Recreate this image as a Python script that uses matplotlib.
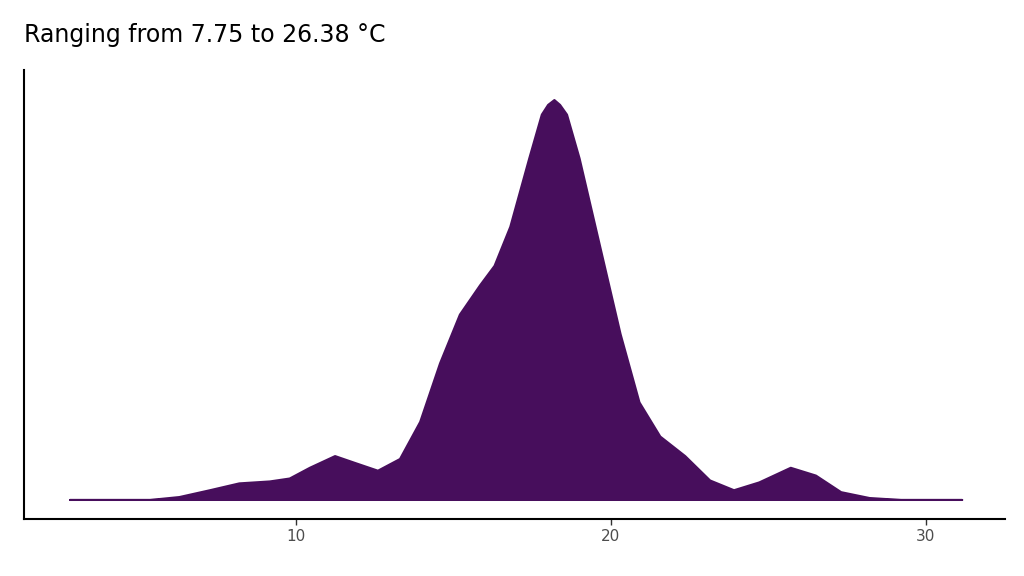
import numpy as np
import matplotlib
matplotlib.use("Agg")
from matplotlib import pyplot as plt

# density profile (temperature, relative height)
temp = [2.83, 5.37, 6.3, 7.27, 8.2, 9.17, 9.8, 10.44, 11.24, 11.87, 12.6, 13.3,
        13.94, 14.57, 15.2, 15.84, 16.3, 16.8, 17.4, 17.8, 18.0, 18.2, 18.38, 18.6,
        19.0, 19.65, 20.3, 20.9, 21.56, 22.35, 23.14, 23.9, 24.7, 25.7, 26.5,
        27.3, 28.2, 29.2, 31.14]
dens = [0, 0, 3, 10, 17, 19, 22, 33, 45, 38, 30, 42,
        80, 140, 190, 220, 240, 280, 350, 395, 405, 410, 405, 395,
        350, 260, 170, 100, 65, 45, 20, 10, 18, 33, 25,
        8, 2, 0, 0]
xticks = [10, 20, 30]
title = "Ranging from 7.75 to 26.38 °C"

fig = plt.figure(figsize=(10.24, 5.76), dpi=100)
ax = fig.add_axes([0.023, 0.099, 0.958, 0.779])
ax.fill_between(temp, dens, 0, color="#470E5C", lw=1.5, edgecolor="#470E5C")
ax.set_xlim(1.37, 32.5)
ax.set_ylim(-20, 440)
ax.set_xticks(xticks)
ax.set_yticks([])
ax.tick_params(axis="x", colors="#4d4d4d", labelsize=11, length=4, width=1)
ax.tick_params(axis="x", color="#333333")
for s in ["top", "right"]:
    ax.spines[s].set_visible(False)
for s in ["left", "bottom"]:
    ax.spines[s].set_linewidth(1.5)
fig.text(0.023, 0.94, title, fontsize=17, ha="left", va="center")
fig.savefig("out.png")
